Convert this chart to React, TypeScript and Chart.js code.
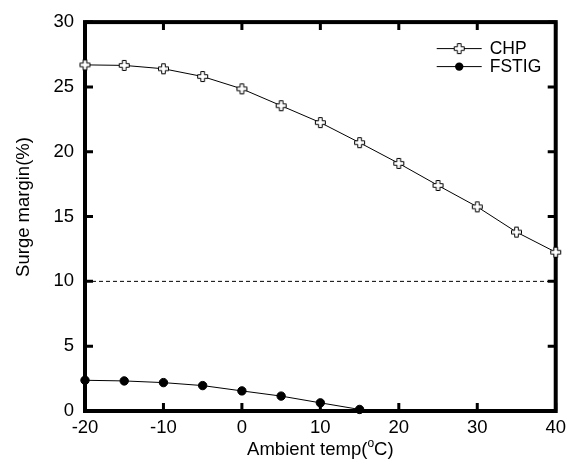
import React, { useEffect, useRef } from "react";
import { Chart, registerables } from "chart.js";
Chart.register(...registerables);

const temps = [-20, -15, -10, -5, 0, 5, 10, 15, 20, 25, 30, 35, 40];
const chpValues = [26.7, 26.66, 26.4, 25.8, 24.85, 23.55, 22.25, 20.7, 19.1, 17.4, 15.75, 13.8, 12.25];
const fstigTemps = [-20, -15, -10, -5, 0, 5, 10, 15];
const fstigValues = [2.37, 2.32, 2.19, 1.96, 1.55, 1.15, 0.63, 0.12];
const refLine = [10, 10];
const refTemps = [-20, 40];
const xTicks = [-20, -10, 0, 10, 20, 30, 40];
const yTicks = [0, 5, 10, 15, 20, 25, 30];
const xTitle = ["Ambient temp(", "o", "C)"];
const yTitle = "Surge margin(%)";
const legendLabels = ["CHP", "FSTIG"];

const FONT = "'Liberation Sans', Arial, sans-serif";

function makePlus(): HTMLCanvasElement {
  const c = document.createElement("canvas");
  c.width = 13;
  c.height = 13;
  const g = c.getContext("2d")!;
  const m = 6.5, a = 1.8, r = 5;
  g.beginPath();
  g.moveTo(m - a, m - r);
  g.lineTo(m + a, m - r);
  g.lineTo(m + a, m - a);
  g.lineTo(m + r, m - a);
  g.lineTo(m + r, m + a);
  g.lineTo(m + a, m + a);
  g.lineTo(m + a, m + r);
  g.lineTo(m - a, m + r);
  g.lineTo(m - a, m + a);
  g.lineTo(m - r, m + a);
  g.lineTo(m - r, m - a);
  g.lineTo(m - a, m - a);
  g.closePath();
  g.fillStyle = "#fff";
  g.fill();
  g.strokeStyle = "#000";
  g.lineWidth = 1;
  g.stroke();
  return c;
}

export default function App() {
  const ref = useRef<HTMLCanvasElement>(null);
  useEffect(() => {
    document.body.style.margin = "0";
    const plus = makePlus();
    const framePlugin = {
      id: "frame",
      beforeDatasetsDraw(chart: any) {
        const { ctx, chartArea: ca, scales } = chart;
        const xs = scales.x, ys = scales.y;
        ctx.save();
        ctx.strokeStyle = "#000";
        ctx.lineWidth = 3;
        const tl = 8;
        xTicks.forEach((t) => {
          const px = xs.getPixelForValue(t);
          ctx.beginPath();
          ctx.moveTo(px, ca.bottom);
          ctx.lineTo(px, ca.bottom - tl);
          ctx.moveTo(px, ca.top);
          ctx.lineTo(px, ca.top + tl);
          ctx.stroke();
        });
        yTicks.forEach((t) => {
          const py = ys.getPixelForValue(t);
          ctx.beginPath();
          ctx.moveTo(ca.left, py);
          ctx.lineTo(ca.left + tl, py);
          ctx.moveTo(ca.right, py);
          ctx.lineTo(ca.right - tl, py);
          ctx.stroke();
        });
        ctx.lineWidth = 4;
        ctx.strokeRect(ca.left, ca.top, ca.right - ca.left, ca.bottom - ca.top);
        ctx.restore();
      },
      afterDatasetsDraw(chart: any) {
        const { ctx, chartArea: ca } = chart;
        ctx.save();
        ctx.strokeStyle = "#000";
        ctx.fillStyle = "#000";
        // legend
        ctx.lineWidth = 1;
        const lx0 = ca.right - 119, lx1 = ca.right - 74, tx = ca.right - 66;
        const ly = [ca.top + 26.5, ca.top + 44.5];
        ctx.font = `17.5px ${FONT}`;
        ctx.textBaseline = "middle";
        ctx.textAlign = "left";
        ly.forEach((y, i) => {
          ctx.beginPath();
          ctx.moveTo(lx0, y);
          ctx.lineTo(lx1, y);
          ctx.stroke();
          const mx = (lx0 + lx1) / 2;
          if (i === 0) {
            ctx.drawImage(plus, mx - 6.5, y - 6.5);
          } else {
            ctx.beginPath();
            ctx.arc(mx, y, 4.2, 0, Math.PI * 2);
            ctx.fill();
          }
          ctx.fillText(legendLabels[i], tx, y + 1);
        });

        // x title with superscript
        const cx = (ca.left + ca.right) / 2;
        const ty = ca.bottom + 39;
        const big = `18.5px ${FONT}`, small = `12px ${FONT}`;
        ctx.font = big;
        const w0 = ctx.measureText(xTitle[0]).width;
        ctx.font = small;
        const w1 = ctx.measureText(xTitle[1]).width;
        ctx.font = big;
        const w2 = ctx.measureText(xTitle[2]).width;
        let sx = cx - (w0 + w1 + w2) / 2;
        ctx.fillText(xTitle[0], sx, ty);
        sx += w0;
        ctx.font = small;
        ctx.fillText(xTitle[1], sx, ty - 6);
        sx += w1;
        ctx.font = big;
        ctx.fillText(xTitle[2], sx, ty);

        // y title
        ctx.save();
        ctx.translate(24, 207);
        ctx.rotate(-Math.PI / 2);
        ctx.textAlign = "center";
        ctx.textBaseline = "middle";
        ctx.font = big;
        ctx.fillText(yTitle, 0, 0);
        ctx.restore();
        ctx.restore();
      },
    };

    const chart = new Chart(ref.current!, {
      type: "line",
      data: {
        datasets: [
          {
            label: "ref",
            data: refTemps.map((x, i) => ({ x, y: refLine[i] })),
            borderColor: "#000",
            borderWidth: 1,
            borderDash: [4, 3],
            pointRadius: 0,
          },
          {
            label: legendLabels[0],
            data: temps.map((x, i) => ({ x, y: chpValues[i] })),
            borderColor: "#000",
            borderWidth: 1,
            pointStyle: plus as any,
            pointRadius: 6,
            clip: false,
          } as any,
          {
            label: legendLabels[1],
            data: fstigTemps.map((x, i) => ({ x, y: fstigValues[i] })),
            borderColor: "#000",
            backgroundColor: "#000",
            borderWidth: 1,
            pointStyle: "circle",
            pointRadius: 4.2,
            clip: false,
          } as any,
        ],
      },
      options: {
        animation: false,
        responsive: false,
        layout: { padding: { left: 0, top: 18.5, right: 10, bottom: 0 } },
        plugins: { legend: { display: false }, tooltip: { enabled: false } },
        scales: {
          x: {
            type: "linear",
            min: -20,
            max: 40,
            grid: { display: false, drawTicks: false },
            border: { display: false },
            afterBuildTicks: (s: any) => {
              s.ticks = xTicks.map((v) => ({ value: v }));
            },
            afterFit: (s: any) => {
              s.height = 48;
            },
            ticks: { color: "#000", font: { family: FONT, size: 18.5 }, padding: 6, maxRotation: 0 },
          },
          y: {
            min: 0,
            max: 30,
            grid: { display: false, drawTicks: false },
            border: { display: false },
            afterBuildTicks: (s: any) => {
              s.ticks = yTicks.map((v) => ({ value: v }));
            },
            afterFit: (s: any) => {
              s.width = 85;
            },
            ticks: { color: "#000", font: { family: FONT, size: 18.5 }, padding: 11 },
          },
        },
      },
      plugins: [framePlugin],
    });
    return () => chart.destroy();
  }, []);
  return <canvas ref={ref} width={572} height={459} style={{ display: "block" }} />;
}
